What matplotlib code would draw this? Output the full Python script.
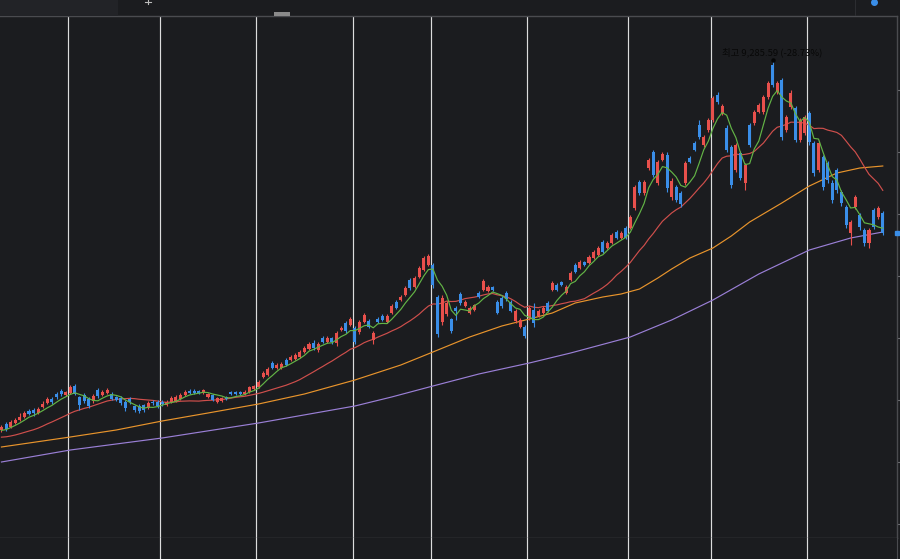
import numpy as np
import pandas as pd
import matplotlib

matplotlib.use("Agg")
import matplotlib.pyplot as plt  # noqa: E402

# daily OHLC (index points)
opens = [
    5600, 5660, 5630, 5670, 5700, 5730, 5790, 5800, 5770, 5830,
    5870, 5910, 5960, 5990, 5950, 5970, 6040, 5930, 5950, 5910,
    5890, 6000, 5950, 5970, 5960, 5930, 5920, 5880, 5910, 5840,
    5840, 5850, 5820, 5880, 5880, 5880, 5850, 5880, 5890, 5910,
    5950, 5990, 5990, 5990, 5970, 5930, 5950, 5880, 5890, 5930,
    5980, 5980, 5980, 5960, 5980, 6010, 6030, 6130, 6150, 6270,
    6220, 6220, 6300, 6300, 6310, 6330, 6380, 6410, 6470, 6400,
    6520, 6480, 6520, 6470, 6600, 6670, 6650, 6620, 6580, 6680,
    6690, 6500, 6710, 6740, 6680, 6770, 6880, 6900, 6950, 7100,
    7030, 7130, 7200, 7250, 7250, 6930, 6680, 6760, 6710, 6820,
    6960, 6840, 6770, 6800, 6970, 7000, 6990, 7030, 6880, 6920,
    6970, 6880, 6690, 6630, 6630, 6720, 6800, 6740, 6770, 6870,
    7000, 7050, 7080, 6970, 7100, 7250, 7220, 7280, 7270, 7320,
    7350, 7480, 7420, 7470, 7580, 7520, 7620, 7620, 7820, 8080,
    7970, 8220, 8380, 8070, 8300, 8350, 7930, 8030, 7970, 8070,
    8320, 8470, 8650, 8450, 8600, 8700, 8950, 8770, 8620, 8430,
    8200, 8370, 8070, 8650, 8670, 8780, 8780, 8930, 9250, 8980,
    9100, 8600, 8830, 8820, 8500, 8570, 8770, 8470, 8200, 8330,
    8270, 8070, 8200, 7980, 7830, 7570, 7830, 7750, 7600, 7470,
    7800, 7730, 7770,
]
highs = [
    5650, 5680, 5700, 5720, 5770, 5790, 5810, 5820, 5830, 5890,
    5930, 5930, 5980, 6010, 5990, 6050, 6060, 5940, 5970, 5930,
    5960, 6020, 6000, 6020, 5980, 5940, 5940, 5900, 5930, 5850,
    5860, 5860, 5890, 5900, 5900, 5900, 5900, 5940, 5950, 5970,
    6000, 6010, 6010, 6000, 6010, 5970, 5960, 5930, 5930, 5940,
    5990, 5990, 5990, 6000, 6040, 6050, 6100, 6190, 6230, 6290,
    6270, 6280, 6320, 6350, 6370, 6400, 6440, 6480, 6500, 6480,
    6540, 6540, 6530, 6590, 6640, 6690, 6730, 6640, 6700, 6770,
    6710, 6590, 6730, 6760, 6760, 6860, 6900, 6950, 7040, 7120,
    7140, 7240, 7340, 7360, 7270, 6950, 6950, 6890, 6720, 6840,
    6980, 6900, 6840, 6860, 6990, 7110, 7050, 7040, 6900, 6940,
    6990, 6900, 6810, 6720, 6650, 6840, 6870, 6810, 6840, 6890,
    7090, 7070, 7090, 7050, 7190, 7270, 7300, 7290, 7350, 7400,
    7440, 7500, 7490, 7570, 7600, 7590, 7640, 7750, 8050, 8100,
    8100, 8320, 8400, 8300, 8380, 8380, 8120, 8050, 7990, 8290,
    8340, 8490, 8700, 8550, 8720, 8940, 8980, 8860, 8650, 8450,
    8470, 8390, 8270, 8670, 8800, 8870, 8950, 9090, 9285.59, 9090,
    9120, 8750, 9000, 8840, 8720, 8750, 8790, 8490, 8490, 8350,
    8290, 8100, 8220, 8000, 7850, 7700, 7950, 7770, 7620, 7620,
    7820, 7840, 7790,
]
lows = [
    5580, 5590, 5620, 5660, 5690, 5720, 5750, 5740, 5760, 5820,
    5860, 5860, 5910, 5940, 5940, 5960, 5950, 5800, 5870, 5820,
    5870, 5920, 5940, 5960, 5900, 5890, 5850, 5790, 5860, 5780,
    5770, 5780, 5810, 5850, 5820, 5840, 5840, 5870, 5880, 5900,
    5940, 5960, 5960, 5960, 5960, 5920, 5890, 5870, 5880, 5900,
    5950, 5950, 5950, 5950, 5970, 6000, 6020, 6120, 6140, 6210,
    6210, 6210, 6240, 6290, 6300, 6320, 6370, 6400, 6400, 6380,
    6470, 6470, 6460, 6440, 6590, 6570, 6640, 6460, 6560, 6670,
    6620, 6460, 6670, 6690, 6670, 6760, 6810, 6890, 6940, 7000,
    7020, 7120, 7190, 7240, 7020, 6530, 6650, 6740, 6570, 6700,
    6850, 6830, 6760, 6790, 6920, 6990, 6980, 6990, 6760, 6820,
    6890, 6780, 6670, 6620, 6520, 6700, 6630, 6730, 6760, 6780,
    6990, 6990, 7040, 6960, 7090, 7170, 7210, 7240, 7260, 7310,
    7340, 7370, 7410, 7460, 7510, 7510, 7510, 7610, 7800, 7950,
    7950, 8200, 8130, 8050, 8290, 7980, 7900, 7880, 7830, 8050,
    8270, 8390, 8510, 8430, 8580, 8680, 8860, 8750, 8380, 8020,
    8180, 8100, 8000, 8430, 8650, 8770, 8760, 8910, 9030, 8960,
    8500, 8580, 8810, 8480, 8480, 8550, 8450, 8140, 8180, 8000,
    8070, 7870, 7970, 7840, 7620, 7450, 7810, 7600, 7440, 7420,
    7610, 7710, 7550,
]
closes = [
    5630, 5610, 5680, 5700, 5730, 5770, 5760, 5770, 5810, 5860,
    5910, 5880, 5930, 5960, 5980, 6030, 5960, 5850, 5890, 5840,
    5940, 5940, 5980, 6000, 5910, 5900, 5870, 5820, 5880, 5800,
    5790, 5800, 5870, 5870, 5840, 5860, 5880, 5920, 5930, 5950,
    5980, 5970, 5970, 5970, 6000, 5960, 5900, 5920, 5920, 5910,
    5960, 5960, 5960, 5980, 6030, 6040, 6080, 6170, 6210, 6220,
    6250, 6260, 6250, 6330, 6350, 6380, 6420, 6460, 6420, 6460,
    6480, 6520, 6480, 6570, 6620, 6590, 6710, 6480, 6680, 6750,
    6630, 6570, 6680, 6700, 6740, 6840, 6820, 6930, 7020, 7020,
    7120, 7220, 7320, 7340, 7050, 6560, 6920, 6870, 6590, 6790,
    6870, 6880, 6820, 6850, 6930, 7090, 7030, 7000, 6770, 6840,
    6910, 6790, 6790, 6700, 6540, 6820, 6670, 6790, 6820, 6790,
    7070, 7000, 7050, 7030, 7170, 7180, 7280, 7250, 7330, 7380,
    7420, 7380, 7470, 7550, 7520, 7570, 7520, 7730, 8030, 7970,
    8080, 8300, 8150, 8280, 8360, 8020, 8090, 7900, 7860, 8270,
    8280, 8400, 8530, 8530, 8700, 8920, 8880, 8840, 8400, 8050,
    8450, 8120, 8250, 8450, 8780, 8850, 8930, 9070, 9050, 9070,
    8530, 8730, 8970, 8500, 8700, 8730, 8480, 8170, 8470, 8030,
    8100, 7900, 8000, 7870, 7650, 7680, 7930, 7630, 7470, 7600,
    7630, 7820, 7570,
]
# closes before the visible window, only needed to start the short averages
prior_closes = [5540, 5520, 5500, 5480, 5490, 5500, 5510, 5480, 5460, 5470,
                5490, 5510, 5530, 5550, 5560, 5570, 5580, 5590, 5610]

# long averages at a few bars
ma60_idx = [0, 15, 25, 35, 45, 56, 66, 77, 87, 94, 102, 109, 115, 120, 125,
            131, 135, 139, 143, 146, 150, 155, 159, 163, 170, 176, 182, 187, 192]
ma60_val = [5430, 5530, 5600, 5690, 5770, 5860, 5960, 6100, 6250, 6380, 6530,
            6640, 6710, 6770, 6870, 6930, 6960, 7010, 7120, 7210, 7320, 7420,
            7540, 7680, 7870, 8040, 8170, 8220, 8240]
ma120_idx = [0, 15, 35, 56, 77, 85, 94, 104, 115, 124, 137, 146, 155, 165,
             176, 185, 192]
ma120_val = [5280, 5400, 5520, 5670, 5840, 5930, 6040, 6160, 6270, 6370, 6530,
             6700, 6900, 7160, 7400, 7520, 7580]

# first bar of each month
month_starts = [15, 35, 56, 77, 94, 115, 137, 155, 176]
price_ticks = [4660, 5280, 5900, 6520, 7140, 7760, 8380, 9000]
peak_label = "최고 9,285.59 (-28.73%)"

BG = "#1b1c1f"
UP = "#e8504c"
DOWN = "#3a8ee8"
GRID = "#dcdcdc"
EDGE = "#4a4b4f"

n = len(closes)
idx = np.arange(n)
o = np.array(opens)
c = np.array(closes)
colors = [UP if cc >= oo else DOWN for oo, cc in zip(o, c)]

full = pd.Series(prior_closes + closes, dtype=float)
ma5 = full.rolling(5).mean().to_numpy()[len(prior_closes):]
ma20 = full.rolling(20).mean().to_numpy()[len(prior_closes):]

W, H = 900, 559
fig = plt.figure(figsize=(W / 100, H / 100), dpi=100, facecolor=BG)
xlim = (-0.316, 195.1)

ax = fig.add_axes([0, 21 / H, 897 / W, 522 / H], facecolor=BG)
for m in month_starts:
    ax.axvline(m - 0.5, color=GRID, lw=0.85, zorder=1)

ax.plot(ma120_idx, ma120_val, color="#9a7fd6", lw=0.85, zorder=2)
ax.plot(ma60_idx, ma60_val, color="#e8942c", lw=0.85, zorder=2)
ax.plot(idx, ma20, color="#cf4f4c", lw=0.85, zorder=2)

ax.vlines(idx, lows, highs, colors=colors, lw=0.8, zorder=3)
ax.bar(idx, c - o, bottom=o, width=0.66, color=colors, linewidth=0, zorder=4)
ax.plot(idx, ma5, color="#63b446", lw=0.85, zorder=5)

peak = int(np.argmax(highs))
ax.plot(peak, highs[peak] + 15, "o", ms=2.2, color="#050505", zorder=6)
ax.text(peak, highs[peak] + 45, peak_label, ha="center", va="bottom",
        fontsize=6.8, color="#080808",
        family=["Noto Sans CJK KR", "DejaVu Sans"], zorder=6)

# current price tag on the scale
ax.plot(xlim[1], c[-1], marker="s", ms=2.5, color=DOWN, clip_on=False, zorder=6)

ax.set_xticks([])
ax.yaxis.tick_right()
ax.set_yticks(price_ticks)
ax.set_xlim(*xlim)
ax.set_ylim(4520, 9740)
ax.tick_params(axis="y", direction="out", length=3, width=0.8,
               colors="#6a6b6f", labelright=False)
ax.spines["left"].set_visible(False)
for side in ("top", "bottom", "right"):
    ax.spines[side].set_color(EDGE)
    ax.spines[side].set_linewidth(1.0)

# lower pane strip
low = fig.add_axes([0, 0, 897 / W, 21 / H], facecolor=BG)
for m in month_starts:
    low.axvline(m - 0.5, color=GRID, lw=0.85)
low.set_xlim(*xlim)
low.set_xticks([])
low.set_yticks([])
for side in ("left", "top", "bottom"):
    low.spines[side].set_visible(False)
low.spines["right"].set_color(EDGE)

# toolbar strip
bar = fig.add_axes([0, 543 / H, 1, 16 / H], facecolor="#1e1f23")
bar.set_xlim(0, W)
bar.set_ylim(16, 0)
bar.axis("off")
bar.add_patch(plt.Rectangle((0, 0), 118, 16, color="#222327", lw=0))
bar.plot([855, 855], [0, 16], color="#2c2d31", lw=0.8)
bar.plot([145, 151], [2, 2], color="#bbbbbb", lw=0.8)
bar.plot([148, 148], [0, 4], color="#bbbbbb", lw=0.8)
bar.add_patch(plt.Rectangle((274, 12), 16, 4, color="#8a8a8a", lw=0))
bar.plot(874, 1.5, "o", ms=4, color="#3a8ee8")

fig.savefig("out.png", dpi=100, facecolor=BG)
plt.close(fig)
